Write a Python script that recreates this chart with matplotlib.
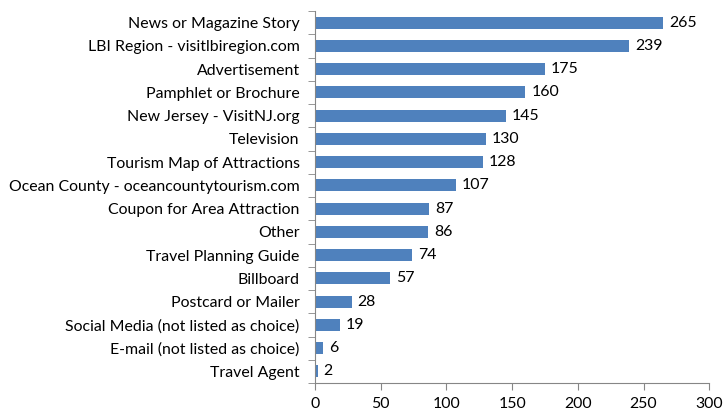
import matplotlib
matplotlib.use("Agg")
import matplotlib.pyplot as plt
import numpy as np

categories = [
    "News or Magazine Story",
    "LBI Region - visitlbiregion.com",
    "Advertisement",
    "Pamphlet or Brochure",
    "New Jersey - VisitNJ.org",
    "Television",
    "Tourism Map of Attractions",
    "Ocean County - oceancountytourism.com",
    "Coupon for Area Attraction",
    "Other",
    "Travel Planning Guide",
    "Billboard",
    "Postcard or Mailer",
    "Social Media (not listed as choice)",
    "E-mail (not listed as choice)",
    "Travel Agent",
]
counts = [265, 239, 175, 160, 145, 130, 128, 107, 87, 86, 74, 57, 28, 19, 6, 2]
xticks = [0, 50, 100, 150, 200, 250, 300]

plt.rcParams['font.family'] = ['Lato', 'DejaVu Sans']
fs = 11.4

fig = plt.figure(figsize=(7.23, 4.12), dpi=100)
ax = fig.add_axes([315 / 723, 1 - 383 / 412, (709.3 - 315) / 723, (383 - 11) / 412])

n = len(categories)
ypos = np.arange(n)[::-1]
ax.barh(ypos, counts, height=0.52, color="#4F81BD")

# value labels just past the bar end
for y, v in zip(ypos, counts):
    ax.text(v + 4.5, y, str(v), va="center", ha="left", fontsize=fs, color="black")

ax.set_xlim(0, 300)
ax.set_ylim(-0.5, n - 0.5)
ax.set_xticks(xticks)
ax.set_xticklabels([str(t) for t in xticks], fontsize=fs)

# category labels centred on bars, tick marks on band boundaries
ax.set_yticks(ypos)
ax.set_yticklabels(categories, fontsize=fs)
ax.tick_params(axis="y", length=0, pad=11)
ax.set_yticks(np.arange(-0.5, n, 1.0), minor=True)
ax.tick_params(axis="y", which="minor", length=5, color="#868686")
ax.tick_params(axis="x", length=5, color="#868686", pad=5)

for s in ["top", "right"]:
    ax.spines[s].set_visible(False)
for s in ["left", "bottom"]:
    ax.spines[s].set_color("#868686")

fig.savefig("out.png", dpi=100)
